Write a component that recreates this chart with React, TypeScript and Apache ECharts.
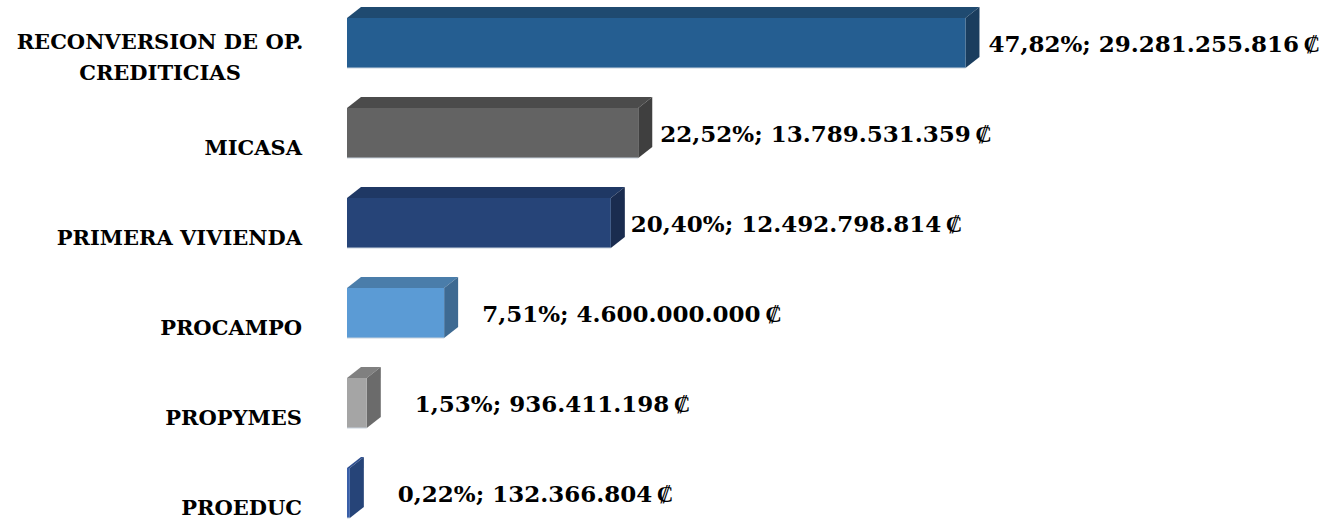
import React, { useEffect, useRef } from "react";
import * as echarts from "echarts";

const categories = [
  "RECONVERSION DE OP.\nCREDITICIAS",
  "MICASA",
  "PRIMERA VIVIENDA",
  "PROCAMPO",
  "PROPYMES",
  "PROEDUC",
];
const percents = [47.82, 22.52, 20.4, 7.51, 1.53, 0.22];
const amounts = [
  "29.281.255.816",
  "13.789.531.359",
  "12.492.798.814",
  "4.600.000.000",
  "936.411.198",
  "132.366.804",
];
const frontColors = ["#255E91", "#636363", "#264478", "#5B9BD5", "#A5A5A5", "#3A5FA8"];
const topColors = ["#1F4A70", "#4B4B4B", "#1F3864", "#4A7DAA", "#808080", "#2F4F8F"];
const sideColors = ["#1A3D5E", "#3F3F3F", "#1A2C4F", "#3E6A92", "#6B6B6B", "#264478"];
const labelGaps = [9, 8, 6, 24, 34, 34];

const fmtPct = (v: number) => v.toFixed(2).replace(".", ",") + "%";

export default function App() {
  const ref = useRef<HTMLDivElement>(null);
  useEffect(() => {
    document.body.style.margin = "0";
    document.body.style.overflow = "hidden";
    const chart = echarts.init(ref.current!, undefined, { renderer: "svg" });
    const DX = 14;
    const DY = 11;
    const FONT = "'DejaVu Serif', serif";
    chart.setOption({
      animation: false,
      grid: { left: 347, right: 205, top: 12, height: 540 },
      xAxis: { type: "value", min: 0, max: 60, show: false },
      yAxis: {
        type: "category",
        inverse: true,
        data: categories,
        axisLine: { show: false },
        axisTick: { show: false },
        axisLabel: {
          margin: 45,
          color: "#000",
          fontFamily: FONT,
          fontWeight: "bold",
          fontSize: 21,
          formatter: (v: string) =>
            v.indexOf("\n") >= 0
              ? v.split("\n").map((s) => "{c|" + s + "}").join("\n")
              : v,
          rich: {
            c: {
              width: 284,
              align: "center",
              color: "#000",
              fontFamily: FONT,
              fontWeight: "bold",
              fontSize: 21,
              lineHeight: 31,
            },
          },
        },
      },
      series: [
        {
          type: "custom",
          data: percents.map((p, i) => [p, i]),
          encode: { x: 0, y: 1 },
          renderItem: (params: any, api: any) => {
            const i = params.dataIndex;
            const val = api.value(0);
            const idx = api.value(1);
            const p0 = api.coord([0, idx]);
            const p1 = api.coord([val, idx]);
            const x0 = p0[0];
            const x1 = p1[0];
            const cy = p0[1];
            const yT = cy - 39;
            const yB = cy + 11;
            return {
              type: "group",
              children: [
                {
                  type: "polygon",
                  shape: {
                    points: [
                      [x0, yT],
                      [x0 + DX, yT - DY],
                      [x1 + DX, yT - DY],
                      [x1, yT],
                    ],
                  },
                  style: { fill: topColors[i] },
                },
                {
                  type: "polygon",
                  shape: {
                    points: [
                      [x1, yT],
                      [x1 + DX, yT - DY],
                      [x1 + DX, yB - DY],
                      [x1, yB],
                    ],
                  },
                  style: { fill: sideColors[i] },
                },
                {
                  type: "rect",
                  shape: { x: x0, y: yT, width: Math.max(x1 - x0, 0.5), height: yB - yT },
                  style: { fill: frontColors[i] },
                },
                {
                  type: "line",
                  shape: { x1: x0, y1: yB, x2: x1, y2: yB },
                  style: { stroke: "#C9D3DE", lineWidth: 1 },
                },
                {
                  type: "text",
                  x: x1 + DX + labelGaps[i],
                  y: cy - 14,
                  style: {
                    text: fmtPct(percents[i]) + "; " + amounts[i] + "\u2009₡",
                    fill: "#000",
                    font: "bold 23px " + FONT,
                    verticalAlign: "middle",
                    align: "left",
                  },
                },
              ],
            };
          },
        },
      ],
    });
    return () => chart.dispose();
  }, []);
  return (
    <div
      ref={ref}
      style={{ position: "absolute", left: 0, top: 0, width: 1328, height: 560 }}
    />
  );
}
